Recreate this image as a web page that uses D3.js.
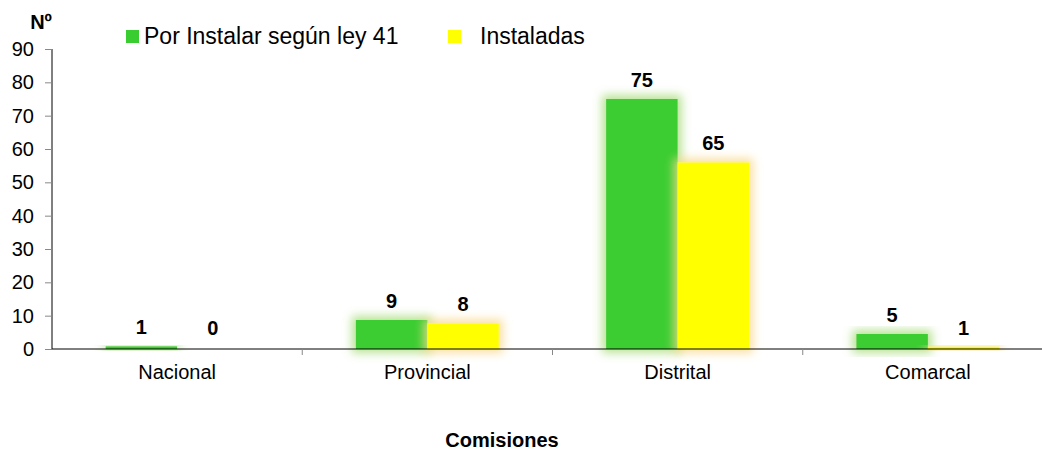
<!DOCTYPE html>
<html>
<head>
<meta charset="utf-8">
<script src="https://cdn.jsdelivr.net/npm/d3@7"></script>
<style>
  body { margin: 0; background: #fff; }
  svg { font-family: "Liberation Sans", Arial, sans-serif; }
</style>
</head>
<body>
<svg id="chart" width="1042" height="453"></svg>
<script>
// categories and series
var categories = ["Nacional", "Provincial", "Distrital", "Comarcal"];
var seriesNames = ["Por Instalar según ley 41", "Instaladas"];
// bar heights as drawn in the picture
var porInstalar = [0.8, 8.7, 75, 4.5];
var instaladas = [0, 7.7, 56, 0.7];
// data labels as printed
var porInstalarLabels = ["1", "9", "75", "5"];
var instaladasLabels = ["0", "8", "65", "1"];
var yTicks = [0, 10, 20, 30, 40, 50, 60, 70, 80, 90];

var svg = d3.select("#chart");
var x0 = 52, x1 = 1053, xEnd = 1042, y0 = 349, y1 = 49;

var xScale = d3.scaleBand().domain(categories).range([x0, x1]).paddingInner(0).paddingOuter(0);
var yScale = d3.scaleLinear().domain([0, 90]).range([y0, y1]);
var sub = d3.scaleBand().domain(seriesNames).range([0, xScale.bandwidth()]).paddingInner(0).paddingOuter(0.75);
var colors = ["#3acd32", "#ffff00"];
var glows = ["#a6dc78", "#f9d98a"];

// glow filters
var defs = svg.append("defs");
glows.forEach(function(c, i) {
  var f = defs.append("filter").attr("id", "glow" + i)
    .attr("x", "-50%").attr("y", "-50%").attr("width", "200%").attr("height", "200%");
  f.append("feMorphology").attr("in", "SourceAlpha").attr("operator", "dilate").attr("radius", 4).attr("result", "dil");
  f.append("feGaussianBlur").attr("in", "dil").attr("stdDeviation", 5).attr("result", "blur");
  f.append("feFlood").attr("flood-color", c).attr("flood-opacity", 0.8);
  f.append("feComposite").attr("in2", "blur").attr("operator", "in").attr("result", "glowc");
  var m = f.append("feMerge");
  m.append("feMergeNode").attr("in", "glowc");
  m.append("feMergeNode").attr("in", "SourceGraphic");
});

var series = [
  { name: seriesNames[0], values: porInstalar, labels: porInstalarLabels },
  { name: seriesNames[1], values: instaladas, labels: instaladasLabels }
];

// bars
series.forEach(function(s, si) {
  svg.append("g").selectAll("rect")
    .data(categories)
    .enter()
    .append("rect")
      .attr("x", function(c) { return xScale(c) + sub(s.name); })
      .attr("y", function(c, i) { return yScale(s.values[i]); })
      .attr("width", sub.bandwidth())
      .attr("height", function(c, i) { return y0 - yScale(s.values[i]); })
      .attr("fill", colors[si])
      .attr("filter", "url(#glow" + si + ")");
});

// value labels
series.forEach(function(s, si) {
  svg.append("g").selectAll("text")
    .data(categories)
    .enter()
    .append("text")
      .attr("x", function(c) { return xScale(c) + sub(s.name) + sub.bandwidth() / 2; })
      .attr("y", function(c, i) { return Math.min(yScale(s.values[i]) - 12, 335); })
      .attr("text-anchor", "middle")
      .style("font-size", "20px")
      .style("font-weight", "bold")
      .text(function(c, i) { return s.labels[i]; });
});

// y axis
var yAxis = d3.axisLeft(yScale).tickValues(yTicks).tickSize(7).tickPadding(11);
var yG = svg.append("g").attr("transform", "translate(" + x0 + ",0)").call(yAxis);
yG.select(".domain").attr("stroke", "#000").attr("d", "M0," + y1 + "V" + y0);
yG.selectAll(".tick line").attr("stroke", "#888");
yG.selectAll(".tick text").style("font-size", "20px").attr("fill", "#000");

// x axis
var xAxis = d3.axisBottom(xScale).tickSize(0).tickPadding(16);
var xG = svg.append("g").attr("transform", "translate(0," + y0 + ")").call(xAxis);
xG.select(".domain").attr("stroke", "#000").attr("d", "M" + x0 + ",0H" + xEnd);
xG.selectAll(".tick text").style("font-size", "20px").attr("fill", "#000");
// boundary ticks between categories
svg.append("g").selectAll("line")
  .data(categories.slice(1))
  .enter()
  .append("line")
    .attr("x1", function(c) { return xScale(c); })
    .attr("x2", function(c) { return xScale(c); })
    .attr("y1", y0).attr("y2", y0 + 6)
    .attr("stroke", "#888");

// titles
svg.append("text").attr("x", 41).attr("y", 29).attr("text-anchor", "middle")
  .style("font-size", "20px").style("font-weight", "bold").text("Nº");
svg.append("text").attr("x", 502).attr("y", 447).attr("text-anchor", "middle")
  .style("font-size", "20px").style("font-weight", "bold").text("Comisiones");

// legend
var legendX = [126, 448];
var legendTextX = [144, 480];
seriesNames.forEach(function(n, i) {
  svg.append("rect").attr("x", legendX[i]).attr("y", 30).attr("width", 13).attr("height", 13).attr("fill", colors[i]);
  svg.append("text").attr("x", legendTextX[i]).attr("y", 44).style("font-size", "23px").text(n);
});
</script>
</body>
</html>
